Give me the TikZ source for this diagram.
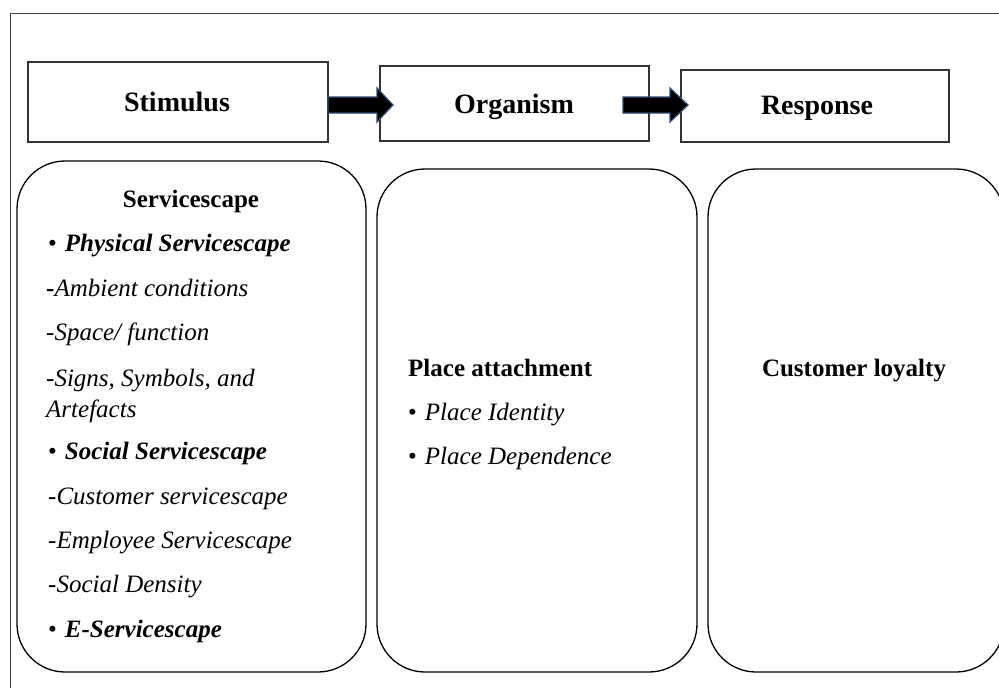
\documentclass[tikz,border=0pt]{standalone}
\usepackage{fontspec}
\setmainfont{Liberation Serif}
\definecolor{arrowedge}{HTML}{2F4B7C}
\definecolor{boxline}{HTML}{333333}
\newcommand{\bul}{•\hspace{0.32em}}
\begin{document}
\begin{tikzpicture}[x=1pt,y=-1pt,
  hbox/.style={draw=boxline, line width=1.4pt, inner sep=0pt},
  rbox/.style={draw=black, line width=1.3pt, rounded corners=48pt, inner sep=0pt},
  headtxt/.style={anchor=base, inner sep=0pt, font=\fontsize{28}{34}\selectfont\bfseries},
  bodytxt/.style={anchor=base west, inner sep=0pt, font=\fontsize{25}{30}\selectfont},
  ctrtxt/.style={anchor=base, inner sep=0pt, font=\fontsize{25}{30}\selectfont\bfseries},
  bigarrow/.style={fill=black, draw=arrowedge, line width=1.2pt, line join=miter}
]
\useasboundingbox (0,0) rectangle (999,688);
% outer frame
\draw[draw=black!75, line width=1pt] (10,700) -- (10,13.5) -- (1010,13.5);

% header boxes
\node[hbox, minimum width=300pt, minimum height=80pt] (stim) at (178,102) {};
\node[hbox, minimum width=269pt, minimum height=75pt] (org) at (514.5,103.5) {};
\node[hbox, minimum width=268pt, minimum height=72pt] (resp) at (815,106) {};

\node[headtxt] (stimtxt) at (177,111) {Stimulus};
\node[headtxt] (orgtxt) at (514,113) {Organism};
\node[headtxt] (resptxt) at (817,114) {Response};

% arrows
\draw[bigarrow] (328,97) -- (377,97) -- (377,88) -- (393,105) -- (377,122) -- (377,113) -- (328,113) -- cycle;
\draw[bigarrow] (623,97) -- (670,97) -- (670,88) -- (688,105) -- (670,122) -- (670,113) -- (623,113) -- cycle;

% rounded boxes
\node[rbox, minimum width=349pt, minimum height=511pt] (sbox) at (191.5,416.5) {};
\node[rbox, minimum width=320pt, minimum height=503pt] (obox) at (537,420.5) {};
\node[rbox, minimum width=296pt, minimum height=503pt] (rbx) at (856,420.5) {};

% stimulus content
\node[ctrtxt] (t0) at (191,207) {Servicescape};
\node[bodytxt] (t1) at (48,251) {\bul\textbf{\textit{Physical Servicescape}}};
\node[bodytxt] (t2) at (46,296) {\textbf{-}\textit{Ambient conditions}};
\node[bodytxt] (t3) at (46,340) {\textit{-Space/ function}};
\node[bodytxt] (t4) at (46,386) {\textit{-Signs, Symbols, and}};
\node[bodytxt] (t5) at (46,417) {\textit{Artefacts}};
\node[bodytxt] (t6) at (48,459) {\bul\textbf{\textit{Social Servicescape}}};
\node[bodytxt] (t7) at (48,504) {\textit{-Customer servicescape}};
\node[bodytxt] (t8) at (48,548) {\textit{-Employee Servicescape}};
\node[bodytxt] (t9) at (48,592) {\textit{-Social Density}};
\node[bodytxt] (t10) at (48,637) {\bul\textbf{\textit{E-Servicescape}}};

% organism content
\node[bodytxt, font=\fontsize{25}{30}\selectfont\bfseries] (o1) at (408,376) {Place attachment};
\node[bodytxt] (o2) at (408,420) {\bul\textit{Place Identity}};
\node[bodytxt] (o3) at (408,464) {\bul\textit{Place Dependence}};

% response content
\node[ctrtxt] (r1) at (854,376) {Customer loyalty};
\end{tikzpicture}
\end{document}
